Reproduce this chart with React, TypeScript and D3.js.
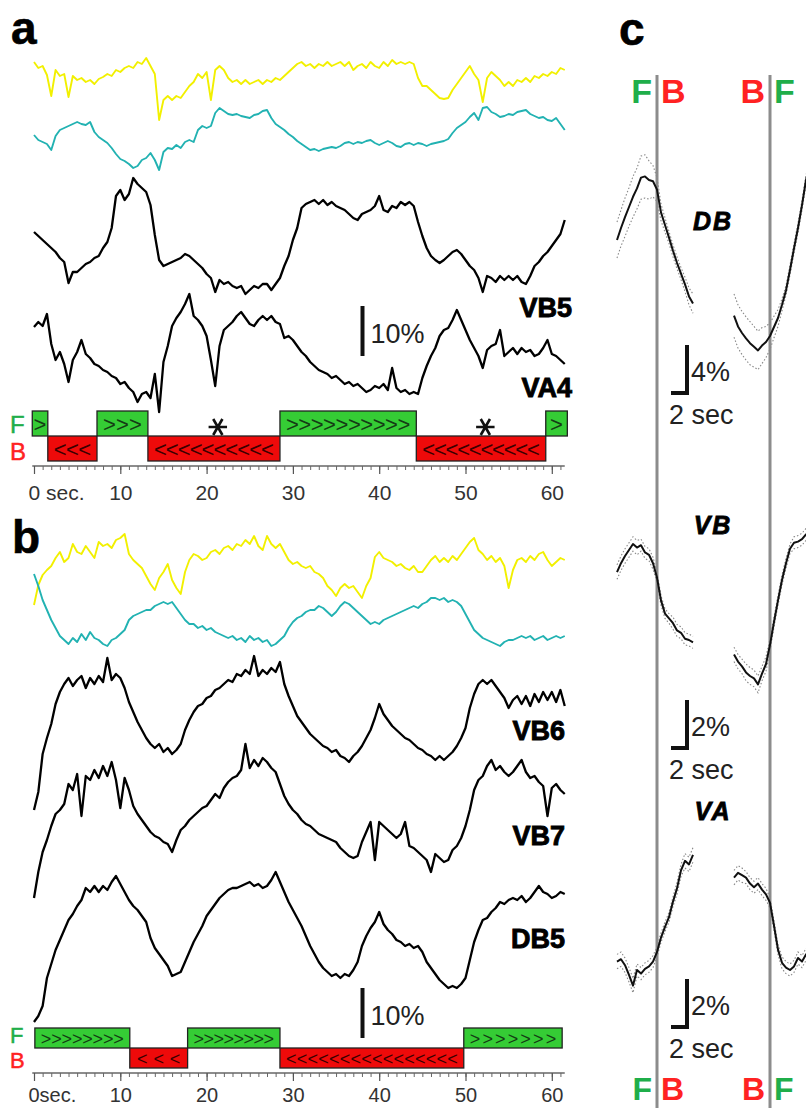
import { useEffect, useRef } from "react";
import * as d3 from "d3";

const W = 806;
const H = 1108;
const FONT = "'Liberation Sans', Arial, Helvetica, sans-serif";
const GREEN = "#35cc35";
const RED = "#ee0a0a";
const TXT_GREEN = "#1fae4a";
const TXT_RED = "#ff2222";

// sampling step of the long recordings (s)
const DT = 0.5;

/** ---- panel a : ratio traces (a.u.) and dF/F (%) ---- **/
const yellowA = [
  12.6, 11.4, 11.8, 10, 5.8, 11, 9.8, 10.2, 5.6, 9.8,
  9, 9.4, 8.6, 9, 8.2, 9.2, 9.6, 10.2, 9.8, 11,
  10.6, 11.4, 11.8, 11.4, 12.6, 12.2, 13.4, 11.8, 10.2, 1,
  5, 5.8, 5, 5.8, 5.4, 6.6, 7.8, 8.6, 10.2, 9.4,
  10.6, 5, 11, 11.8, 11, 9.4, 8.6, 9, 8.2, 9,
  8.2, 8.6, 9, 8.2, 9, 8.6, 9.4, 9, 9.8, 10.6,
  11.4, 12.2, 12.6, 11.8, 12.2, 11.4, 12.2, 11.8, 12.6, 11.8,
  12.2, 12.6, 11.8, 12.6, 11, 11.8, 12.2, 11.4, 12.6, 11.8,
  11.4, 12.6, 11.8, 13, 12.2, 12.6, 12.2, 12.6, 12.2, 9.4,
  7.8, 7.8, 7, 6.2, 5.4, 5.2, 5.4, 7, 8.2, 9.4,
  10.6, 11.8, 10.2, 9, 4.6, 9.4, 10.6, 9.8, 9, 7.8,
  8.6, 7.8, 9, 8.6, 9.4, 8.6, 9.8, 9.4, 10.2, 9.8,
  10.6, 10.2, 11.4, 11,
];
const cyanA = [
  8, 7, 6.6, 6.2, 5, 7.8, 9, 9.4, 9.8, 10.2,
  10.6, 10.2, 10, 10.6, 8.6, 7.6, 7, 6.4, 5.4, 4.2,
  3.2, 2.8, 2.2, 1.4, 1.8, 3, 3.4, 4.4, 3, 1,
  4.6, 5.4, 5.2, 6, 5.4, 6.6, 7, 6.6, 9, 9.8,
  9.4, 9.8, 12.4, 13.4, 12.8, 12.2, 12, 12.2, 11.8, 11.6,
  11.4, 12, 12.2, 12.8, 13, 11.4, 10.2, 9.6, 9, 8.2,
  7.6, 6.8, 6.2, 5.6, 5, 5.2, 4.8, 5.2, 5.4, 5.6,
  5.4, 5.8, 6.4, 6.6, 6.2, 6.6, 6.4, 6.8, 7, 6.4,
  6, 6.4, 6.8, 6.4, 5.8, 5.6, 6.2, 6.4, 6, 6.4,
  6.2, 5.8, 6.2, 6.4, 6.6, 6.8, 7.2, 8.4, 9.4, 10,
  10.6, 11.6, 12.4, 11, 13.4, 13.6, 12.6, 12.2, 11.6, 11.8,
  12.2, 12, 12.6, 12.8, 13, 12.2, 11.8, 11.4, 11.6, 11,
  10.8, 11.4, 10.2, 9,
];
const vb5 = [
  13.6, 12.8, 12, 11.2, 10.4, 9.6, 8.4, 7.6, 3.4, 5.6,
  5.6, 6.4, 7.2, 7.6, 8.4, 8.8, 10.4, 11.6, 14.4, 20.8,
  22, 20, 21.2, 24.4, 23.2, 22.4, 21.6, 19, 13, 8,
  6.8, 7.2, 7.6, 8, 8.4, 9.2, 8.8, 8, 7.2, 6.4,
  5.2, 4.4, 1.6, 4, 3.2, 3.6, 2.8, 2.4, 2.8, 1.2,
  2, 2.8, 2.4, 3.2, 3.2, 2, 3.2, 4.4, 6.8, 8.8,
  12, 14.4, 18.4, 19.2, 19.6, 20, 19.2, 20, 19, 19.6,
  18.8, 18.4, 18, 17.2, 16.4, 16, 17.2, 17.6, 18, 18.8,
  20.8, 18, 17.6, 18.8, 18.4, 19.6, 19, 19.6, 18.8, 15.6,
  12.8, 10.4, 8.8, 8, 7.4, 8, 8.8, 9.6, 10, 9.2,
  8, 6.8, 6, 4.4, 1.6, 4.8, 4.4, 3.6, 4.8, 4,
  4.8, 4, 4.8, 3.6, 3.2, 4.8, 6.8, 7.6, 8.8, 9.6,
  10.8, 12, 13.2, 16,
];
const va4 = [
  16.6, 17.6, 16.8, 19.2, 13.2, 10, 11.6, 9.2, 5.6, 10,
  11.6, 14, 11.2, 10.4, 9.2, 8.8, 8, 7.6, 6.8, 6.4,
  5.2, 5.6, 4.4, 3.6, 1.6, 3.2, 3.6, 2.4, 7.2, -0.4,
  9.6, 12.8, 16.8, 18.4, 19.6, 21.2, 23.2, 18.8, 18, 16.8,
  14.8, 10, 4.8, 12.8, 16, 16.8, 17.6, 18.8, 19.6, 18.4,
  17.2, 16.8, 18, 18.8, 18, 18.8, 17.6, 17.2, 14.4, 14.8,
  14, 12.8, 11.6, 10.8, 9.6, 8.8, 8, 7.6, 7.2, 6.4,
  6.8, 6, 5.2, 5.6, 4.8, 5.2, 4.4, 3.6, 4, 4.8,
  4.4, 5.2, 4, 8.4, 4.4, 3.6, 4, 3.2, 3.6, 3.2,
  6.4, 8.8, 10.8, 12.4, 14.8, 16, 16.4, 18, 20, 18,
  16, 14, 12.4, 10.8, 8.4, 12, 12.8, 13.2, 16, 10.8,
  11.6, 12.4, 11.2, 12.4, 11.6, 12, 10.8, 11.2, 12.4, 14,
  11.2, 10.8, 10, 9.2,
];
const epochsA = [
  { dir: "F", start: -0.2, end: 1.6, marks: ">" },
  { dir: "B", start: 1.6, end: 7.3, marks: "<<<" },
  { dir: "F", start: 7.3, end: 13.2, marks: ">>>" },
  { dir: "B", start: 13.2, end: 28.5, marks: "<<<<<<<<<<" },
  { dir: "F", start: 28.5, end: 44.3, marks: ">>>>>>>>>>" },
  { dir: "B", start: 44.3, end: 59.3, marks: "<<<<<<<<<<" },
  { dir: "F", start: 59.3, end: 61.8, marks: ">" },
];
const starsA = [21.3, 52.3];

/** ---- panel b ---- **/
const yellowB = [
  2, 6, 8, 9, 9.8, 11.4, 12.6, 10.6, 11.4, 14.2,
  12.6, 12.2, 13.8, 12.6, 11.4, 14.6, 13.8, 14.2, 13.4, 15,
  15.4, 16.2, 12.2, 11, 10.2, 9.4, 7.8, 6.2, 5, 7.4,
  8.6, 10.2, 7, 5.4, 4.2, 8.6, 11, 12.2, 11.8, 11,
  11.4, 12.6, 13, 12.2, 13.4, 13.8, 13, 14.2, 13.8, 15,
  14.2, 15.8, 13.8, 13, 15.8, 14.2, 13.4, 14.2, 12.6, 11,
  10.2, 10.6, 9.8, 9.4, 9.8, 8.6, 8.2, 7.4, 5.8, 5,
  3.8, 5.4, 6.2, 5.4, 5.8, 4.6, 3.4, 5.8, 7.4, 11.6,
  12.6, 11.4, 11, 10.6, 9.8, 10.2, 9.4, 9, 9.8, 8.6,
  8.6, 9.8, 11, 11.8, 10.6, 11.4, 10.6, 11.8, 11, 12.2,
  13.4, 14.6, 15.4, 13, 12.2, 11, 11.8, 10.6, 11.4, 9.8,
  5.4, 9, 11, 11.4, 10.6, 11.8, 11, 12.2, 12.6, 11,
  9.8, 10.6, 11.4, 11,
];
const cyanB = [
  15.2, 12.8, 10, 8, 6, 4.4, 2.8, 2, 1.2, 2.4,
  1.6, 3.2, 2, 3.6, 2.4, 2, 1.2, 0.8, 2, 2.4,
  3.2, 4, 6, 6.8, 7.2, 7.6, 8, 8, 8.8, 9.2,
  9.6, 9.2, 9.6, 8.4, 7.2, 6, 5.2, 5.2, 4.4, 4.8,
  4, 4.4, 3.6, 3.2, 2.8, 2.4, 2.8, 2, 2.4, 1.6,
  2.8, 2, 2.4, 1.6, 2, 0.8, 1.2, 2, 2.8, 4.4,
  5.6, 6.4, 6.8, 7.6, 8, 8, 8.8, 8.4, 7.6, 6.8,
  7.6, 8.8, 9.6, 9.2, 8.4, 7.6, 6.8, 6, 5.2, 5.6,
  5.2, 6, 6.4, 6.8, 7.2, 7.6, 8, 8.4, 8.8, 8.4,
  9.2, 9.6, 10.4, 10.4, 10, 10.4, 9.6, 10, 9.6, 8.8,
  7.2, 5.6, 4, 3.2, 2.4, 2, 1.6, 1.2, 0.8, 1.6,
  2, 2, 2.4, 2.8, 2.4, 2.8, 2, 2.4, 2.8, 2,
  2.4, 2.8, 2.4, 2.8,
];
const vb6 = [
  1, 4.6, 12.2, 15.4, 18.2, 22.2, 24.6, 26.2, 27.4, 25.8,
  27, 27.8, 25.4, 27.4, 26.2, 27.8, 26.6, 31.4, 27, 28.2,
  27.4, 25.4, 22.6, 20.6, 18.6, 17, 15.4, 14.2, 13.4, 14.2,
  12.6, 13.4, 12.2, 13, 14.2, 17, 19, 20.6, 21.8, 22.2,
  23.4, 23.8, 25, 25.4, 26.2, 27, 26.6, 28.2, 27.8, 29,
  28.2, 31.8, 27.8, 29, 28.2, 29.4, 28.6, 30.6, 26.2, 23.8,
  21.8, 19.8, 18.6, 17.4, 16.2, 15.4, 14.6, 13.8, 13.4, 12.6,
  13, 11.8, 11.4, 10.6, 11.8, 12.6, 13.8, 15.4, 17, 19.4,
  22.2, 20.2, 19, 17.8, 17, 16.2, 15.4, 15, 14.2, 13.4,
  13, 12.2, 11.8, 11, 11.8, 11, 11.8, 12.6, 13.8, 15.4,
  17.4, 21.4, 24.2, 26.2, 27, 26.2, 27, 25.8, 24.6, 23.4,
  21.4, 23, 23.8, 22.2, 23.8, 21.8, 24.2, 22.6, 24.6, 23,
  24.6, 22.6, 25, 21.8,
];
const vb7 = [
  1.4, 6.6, 10.6, 13, 15.8, 18.2, 19, 20.2, 24.2, 23,
  26.2, 17.8, 25.8, 25, 27, 25.4, 27.8, 25.8, 28.6, 25,
  19.4, 25.4, 23, 19.8, 18.2, 17, 15.8, 14.6, 13.8, 13.4,
  12.6, 12.2, 10.6, 13, 15, 15.8, 17, 17.8, 18.6, 19.4,
  19.8, 21, 22.2, 21.4, 23.4, 24.6, 25.4, 25.8, 27, 32.2,
  27.4, 29, 27.8, 29.4, 28.6, 27.4, 26.6, 24.2, 21.8, 20.2,
  19, 18.2, 17, 16.2, 15.8, 15, 14.2, 13.8, 13.4, 13,
  12.6, 11.4, 10.6, 9.8, 9.4, 9.8, 12.6, 14.6, 16.6, 9,
  16.6, 15.8, 15, 14.2, 13.4, 14.2, 16.6, 11.8, 11.4, 10.6,
  9.8, 9, 6.6, 10.2, 9.4, 8.6, 9, 11, 11.8, 13.4,
  15.8, 19, 23, 25, 25.8, 27.8, 29, 27, 27.8, 26.6,
  25.8, 26.6, 27.8, 29, 26.6, 25.4, 25.8, 24.6, 23.8, 17.8,
  23.4, 24.2, 23, 22.2,
];
const db5 = [
  0.6, 1.8, 3.8, 9.4, 12.2, 15, 17, 19, 21, 22.2,
  23.8, 25, 27.4, 26.6, 27.8, 26.6, 27.8, 27, 28.6, 29.8,
  28.2, 26.6, 25, 23.8, 23, 21.8, 20.6, 17.4, 15.4, 14.2,
  13, 11.8, 9.8, 10.2, 10.6, 12.6, 14.6, 16.6, 18.2, 19.8,
  21.8, 23, 24.2, 25.4, 26.2, 27, 27.4, 27.4, 27.8, 28.2,
  28.6, 27.8, 28.2, 27.4, 27.8, 29, 30.6, 28.6, 26.6, 24.6,
  23, 21.4, 19.8, 17.8, 15.8, 14.2, 12.6, 11.4, 10.6, 9.8,
  10.2, 9.4, 10.2, 9.8, 11, 12.6, 15.8, 17.8, 19.4, 20.6,
  22.6, 20.2, 19, 18.2, 17, 16.6, 15.8, 16.2, 15.4, 15.8,
  14.6, 12.6, 11.4, 10.2, 9, 8.2, 7.4, 7.8, 7.4, 8.2,
  9.4, 13, 16.6, 19, 21, 21.4, 22.6, 23.4, 24.6, 24.2,
  25, 25.4, 25, 25.8, 24.6, 25.4, 26.6, 27.8, 26.6, 26.2,
  25.4, 25.8, 26.6, 26.2,
];
const epochsB = [
  { dir: "F", start: 0.1, end: 11.1, marks: ">>>>>>>>" },
  { dir: "B", start: 11.1, end: 17.8, marks: "<<<" },
  { dir: "F", start: 17.8, end: 28.5, marks: ">>>>>>>>" },
  { dir: "B", start: 28.5, end: 49.8, marks: "<<<<<<<<<<<<<<<<" },
  { dir: "F", start: 49.8, end: 61.2, marks: ">>>>>>>" },
];

const timeTicks = [0, 10, 20, 30, 40, 50, 60];

/** ---- panel c : mean +/- sem around reversals (t = 0 at the switch) ---- **/
const tLeft = [-5, -4.5, -4, -3.5, -3, -2.5, -2, -1.5, -1, -0.5, 0, 0.5, 1, 1.5, 2, 2.5, 3, 3.5, 4, 4.5];
const tRight = [-4.5, -4, -3.5, -3, -2.5, -2, -1.5, -1, -0.5, 0, 0.5, 1, 1.5, 2, 2.5, 3, 3.5, 4, 4.5, 5];

const dbLeft = [10, 11, 11.9, 12.75, 13.6, 14.3, 15.2, 15.3, 15, 14.9, 14.2, 12.3, 11.25, 10.2, 9.1, 8.1, 7.2, 6.3, 5.3, 4.7];
const dbLeftSem = [1.5, 1.5, 1.6, 1.6, 1.7, 1.7, 1.8, 1.8, 1.6, 1.3, 1, 0.7, 0.6, 0.5, 0.5, 0.5, 0.5, 0.6, 0.7, 0.8];
const dbRight = [3.7, 2.8, 2.25, 1.8, 1.4, 1.1, 0.8, 1.2, 1.5, 2, 2.75, 3.5, 4.6, 5.8, 7.5, 9.3, 11, 12.9, 15, 16.25];
const dbRightSem = [1.8, 1.8, 1.8, 1.8, 1.8, 1.7, 1.6, 1.5, 1.3, 1.1, 0.9, 0.7, 0.5, 0.4, 0.4, 0.4, 0.4, 0.4, 0.4, 0.4];

const vbLeft = [5.33, 5.7, 6, 6.25, 6.5, 6.35, 6.45, 6.15, 6.05, 5.7, 5.1, 4.15, 3.6, 3.4, 3.2, 2.9, 2.8, 2.55, 2.5, 2.4];
const vbLeftSem = [0.3, 0.3, 0.3, 0.3, 0.3, 0.3, 0.25, 0.25, 0.25, 0.25, 0.2, 0.2, 0.2, 0.2, 0.25, 0.25, 0.25, 0.25, 0.25, 0.25];
const vbRight = [1.9, 1.6, 1.4, 1.15, 1, 0.9, 0.65, 1.1, 1.5, 2.3, 3.25, 4.15, 5, 5.7, 6.3, 6.55, 6.6, 6.7, 6.9, 6.95];
const vbRightSem = [0.3, 0.3, 0.3, 0.35, 0.35, 0.35, 0.35, 0.3, 0.3, 0.25, 0.2, 0.2, 0.2, 0.2, 0.2, 0.25, 0.25, 0.25, 0.25, 0.25];

const vaLeft = [1.6, 1.7, 1.45, 1.05, 0.6, 1.25, 1.1, 1.3, 1.4, 1.6, 2, 2.6, 3.05, 3.45, 4.1, 4.65, 5.4, 5.8, 5.65, 6.05];
const vaLeftSem = [0.3, 0.3, 0.3, 0.3, 0.3, 0.25, 0.25, 0.25, 0.25, 0.25, 0.2, 0.2, 0.2, 0.2, 0.2, 0.25, 0.25, 0.3, 0.3, 0.3];
const vaRight = [5.1, 5.3, 5.2, 5.1, 4.85, 4.7, 4.85, 4.6, 4.4, 4.05, 3.1, 2.1, 1.55, 1.35, 1.25, 1.4, 1.75, 1.6, 1.9, 1.8];
const vaRightSem = [0.3, 0.3, 0.3, 0.25, 0.25, 0.25, 0.25, 0.25, 0.25, 0.2, 0.2, 0.2, 0.25, 0.25, 0.25, 0.25, 0.25, 0.25, 0.25, 0.25];

/** ---- helpers ---- **/
function drawTrace(g, values, x, floor, color, width) {
  // 10 units = 50 px for every long trace
  const y = d3.scaleLinear().domain([0, 10]).range([floor, floor - 50]);
  const line = d3.line().x((_, i) => x(i * DT)).y(d => y(d));
  g.append("path")
    .datum(values)
    .attr("d", line)
    .attr("fill", "none")
    .attr("stroke", color)
    .attr("stroke-width", width)
    .attr("stroke-linejoin", "round");
}

function drawTimeAxis(g, x, y0, zeroLabel, fontSize, pad) {
  g.append("line")
    .attr("x1", x(-0.2)).attr("x2", x(61.5))
    .attr("y1", y0).attr("y2", y0)
    .attr("stroke", "#666").attr("stroke-width", 1.5);

  const minor = d3.axisBottom(x).tickValues(d3.range(0, 62, 1)).tickSize(4).tickFormat(() => "");
  const gm = g.append("g").attr("transform", `translate(0,${y0})`).attr("color", "#666").call(minor);
  gm.select(".domain").remove();

  const major = d3.axisBottom(x)
    .tickValues(timeTicks)
    .tickSize(8)
    .tickPadding(pad)
    .tickFormat(d => (d === 0 ? zeroLabel : String(d)));
  const gM = g.append("g").attr("transform", `translate(0,${y0})`).attr("color", "#555").call(major);
  gM.select(".domain").remove();
  gM.selectAll("line").attr("stroke-width", 1.2);
  gM.selectAll("text")
    .attr("font-family", FONT)
    .attr("font-size", fontSize)
    .attr("fill", "#333");
  gM.selectAll("text").filter(d => d === 0).attr("text-anchor", "start").attr("x", -6);
}

function drawEpochs(g, epochs, x, top, h, fontSize) {
  epochs.forEach(e => {
    const y0 = e.dir === "F" ? top : top + h;
    const x0 = x(e.start);
    const w = x(e.end) - x0;
    g.append("rect")
      .attr("x", x0).attr("y", y0).attr("width", w).attr("height", h)
      .attr("fill", e.dir === "F" ? GREEN : RED)
      .attr("stroke", "#222").attr("stroke-width", 1.3);
    const t = g.append("text")
      .attr("x", x0 + w / 2).attr("y", y0 + h / 2 + 1)
      .attr("text-anchor", "middle")
      .attr("dominant-baseline", "central")
      .attr("font-family", FONT)
      .attr("font-size", fontSize)
      .attr("fill", e.dir === "F" ? "#143c14" : "#3a0000")
      .text(e.marks);
    if (e.marks.length > 1) {
      const len = Math.min(w - 12, e.marks.length * fontSize * 0.8);
      t.attr("textLength", len).attr("lengthAdjust", "spacing");
    }
  });
}

function drawFB(g, x, yF, yB, size) {
  g.append("text").attr("x", x).attr("y", yF).attr("font-family", FONT).attr("font-size", size)
    .attr("fill", TXT_GREEN).attr("stroke", TXT_GREEN).attr("stroke-width", 0.5).text("F");
  g.append("text").attr("x", x).attr("y", yB).attr("font-family", FONT).attr("font-size", size)
    .attr("fill", TXT_RED).attr("stroke", TXT_RED).attr("stroke-width", 0.5).text("B");
}

function traceLabel(g, text, x, y) {
  g.append("text")
    .attr("x", x).attr("y", y)
    .attr("text-anchor", "end")
    .attr("font-family", FONT)
    .attr("font-weight", "bold")
    .attr("font-size", 27)
    .attr("stroke", "#000").attr("stroke-width", 0.9)
    .attr("fill", "#000")
    .text(text);
}

function panelLabel(g, text, x, y) {
  g.append("text")
    .attr("x", x).attr("y", y)
    .attr("font-family", FONT)
    .attr("font-weight", "bold")
    .attr("font-size", 46)
    .attr("stroke", "#000").attr("stroke-width", 0.6)
    .text(text);
}

function pctBar(g, x, yBottom, label) {
  const len = d3.scaleLinear().domain([0, 10]).range([0, 50])(10);
  g.append("line")
    .attr("x1", x).attr("x2", x)
    .attr("y1", yBottom).attr("y2", yBottom - len)
    .attr("stroke", "#111").attr("stroke-width", 4);
  g.append("text")
    .attr("x", x + 8).attr("y", yBottom - 13)
    .attr("font-family", FONT).attr("font-size", 27).attr("fill", "#222")
    .text(label);
}

function drawMean(g, times, mean, sem, xc, y) {
  const line = d3.line().x((_, i) => xc(times[i])).y(d => y(d));
  [1, -1].forEach(s => {
    g.append("path")
      .datum(mean.map((m, i) => m + s * sem[i]))
      .attr("d", line)
      .attr("fill", "none")
      .attr("stroke", "#888")
      .attr("stroke-width", 1.1)
      .attr("stroke-dasharray", "1.5,2");
  });
  g.append("path")
    .datum(mean)
    .attr("d", line)
    .attr("fill", "none")
    .attr("stroke", "#111")
    .attr("stroke-width", 2)
    .attr("stroke-linejoin", "round");
}

function cScaleBar(g, xc, y, pctValue, yBottom, pctLabel) {
  const vx = 687;
  const vLen = y(0) - y(pctValue);
  const hLen = xc(2) - xc(0);
  g.append("path")
    .attr("d", `M${vx},${yBottom - vLen} V${yBottom} H${vx - hLen}`)
    .attr("fill", "none").attr("stroke", "#111").attr("stroke-width", 4)
    .attr("stroke-linejoin", "miter");
  g.append("text")
    .attr("x", vx + 4).attr("y", yBottom - 12)
    .attr("font-family", FONT).attr("font-size", 27).attr("fill", "#222")
    .text(pctLabel);
  g.append("text")
    .attr("x", vx - 18).attr("y", yBottom + 31)
    .attr("font-family", FONT).attr("font-size", 27).attr("fill", "#222")
    .text("2 sec");
}

export default function App() {
  const svgRef = useRef(null);

  useEffect(() => {
    const svg = d3.select(svgRef.current);
    svg.selectAll("*").remove();
    svg.append("rect").attr("width", W).attr("height", H).attr("fill", "#fff");
    const g = svg.append("g");

    const x = d3.scaleLinear().domain([0, 60]).range([34, 551.8]);

    // ---- panel a ----
    panelLabel(g, "a", 11, 44);
    drawTrace(g, yellowA, x, 125, "#f2f000", 1.9);
    drawTrace(g, cyanA, x, 175, "#22b2b2", 1.9);
    drawTrace(g, vb5, x, 300, "#000", 2.3);
    drawTrace(g, va4, x, 410, "#000", 2.3);
    traceLabel(g, "VB5", 572, 317);
    traceLabel(g, "VA4", 572, 397);
    pctBar(g, 362.5, 356, "10%");
    drawEpochs(g, epochsA, x, 411, 25, 22);
    // asterisks marking the events
    const star = d3.symbol(d3.symbolAsterisk, 240);
    starsA.forEach(s => {
      g.append("path")
        .attr("d", star())
        .attr("transform", `translate(${x(s)},427) rotate(90)`)
        .attr("fill", "none").attr("stroke", "#111").attr("stroke-width", 2.6);
    });
    drawFB(g, 10, 433, 460, 24);
    drawTimeAxis(g, x, 466, "0 sec.", 21, 11);

    // ---- panel b ----
    panelLabel(g, "b", 12, 553);
    drawTrace(g, yellowB, x, 615, "#f2f000", 1.9);
    drawTrace(g, cyanB, x, 650, "#22b2b2", 1.9);
    drawTrace(g, vb6, x, 815, "#000", 2.3);
    drawTrace(g, vb7, x, 905, "#000", 2.3);
    drawTrace(g, db5, x, 1025, "#000", 2.3);
    traceLabel(g, "VB6", 565, 740);
    traceLabel(g, "VB7", 565, 845);
    traceLabel(g, "DB5", 565, 948);
    pctBar(g, 362.5, 1038, "10%");
    drawEpochs(g, epochsB, x, 1028, 20, 18);
    drawFB(g, 10, 1043, 1068, 22);
    drawTimeAxis(g, x, 1073, "0sec.", 20, 7);

    // ---- panel c ----
    panelLabel(g, "c", 619, 45);
    const switches = [657, 770];
    switches.forEach(sx => {
      g.append("line").attr("x1", sx).attr("x2", sx).attr("y1", 75).attr("y2", H)
        .attr("stroke", "#8c8c8c").attr("stroke-width", 3);
    });
    const fbTop = [
      { t: "F", x: 652, anchor: "end", c: TXT_GREEN },
      { t: "B", x: 661, anchor: "start", c: TXT_RED },
      { t: "B", x: 765, anchor: "end", c: TXT_RED },
      { t: "F", x: 774, anchor: "start", c: TXT_GREEN },
    ];
    [[103, 34], [1100, 32]].forEach(([yy, fs]) => {
      fbTop.forEach(l => {
        g.append("text").attr("x", l.x).attr("y", yy).attr("text-anchor", l.anchor)
          .attr("font-family", FONT).attr("font-weight", "bold").attr("font-size", fs)
          .attr("fill", l.c).text(l.t);
      });
    });

    const xcL = d3.scaleLinear().domain([0, 1]).range([switches[0], switches[0] + 8]);
    const xcR = d3.scaleLinear().domain([0, 1]).range([switches[1], switches[1] + 8]);
    const yDB = d3.scaleLinear().domain([0, 4]).range([360, 312]);
    const yVB = d3.scaleLinear().domain([0, 2]).range([700, 652]);
    const yVA = d3.scaleLinear().domain([0, 2]).range([1000, 952]);

    drawMean(g, tLeft, dbLeft, dbLeftSem, xcL, yDB);
    drawMean(g, tRight, dbRight, dbRightSem, xcR, yDB);
    drawMean(g, tLeft, vbLeft, vbLeftSem, xcL, yVB);
    drawMean(g, tRight, vbRight, vbRightSem, xcR, yVB);
    drawMean(g, tLeft, vaLeft, vaLeftSem, xcL, yVA);
    drawMean(g, tRight, vaRight, vaRightSem, xcR, yVA);

    [["DB", 230], ["VB", 534], ["VA", 820]].forEach(([t, yy]) => {
      g.append("text").attr("x", 713).attr("y", yy).attr("text-anchor", "middle")
        .attr("font-family", FONT).attr("font-weight", "bold").attr("font-style", "italic")
        .attr("font-size", 25).attr("letter-spacing", 2)
        .attr("stroke", "#000").attr("stroke-width", 0.8)
        .text(t);
    });

    cScaleBar(g, xcL, yDB, 4, 393, "4%");
    cScaleBar(g, xcL, yVB, 2, 748, "2%");
    cScaleBar(g, xcL, yVA, 2, 1027, "2%");
  }, []);

  return (
    <svg
      ref={svgRef}
      width={W}
      height={H}
      style={{ position: "absolute", left: 0, top: 0, display: "block" }}
    />
  );
}
